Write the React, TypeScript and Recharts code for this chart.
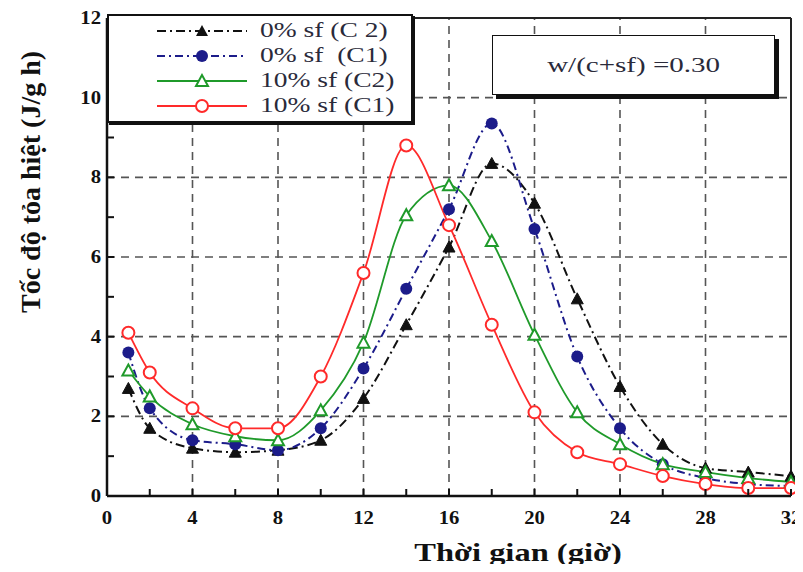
import React from "react";
import { LineChart, Line, XAxis, YAxis, ReferenceLine } from "recharts";

// time in hours
const hours = [1, 2, 4, 6, 8, 10, 12, 14, 16, 18, 20, 22, 24, 26, 28, 30, 32];

// heat release rate (J/g h)
const sf0C2 = [2.7, 1.7, 1.2, 1.1, 1.15, 1.4, 2.45, 4.3, 6.25, 8.35, 7.35, 4.95, 2.75, 1.3, 0.7, 0.6, 0.5];
const sf0C1 = [3.6, 2.2, 1.4, 1.3, 1.15, 1.7, 3.2, 5.2, 7.2, 9.35, 6.7, 3.5, 1.7, 0.8, 0.45, 0.3, 0.25];
const sf10C2 = [3.15, 2.5, 1.8, 1.5, 1.4, 2.15, 3.85, 7.05, 7.8, 6.4, 4.05, 2.1, 1.3, 0.8, 0.6, 0.45, 0.35];
const sf10C1 = [4.1, 3.1, 2.2, 1.7, 1.7, 3.0, 5.6, 8.8, 6.8, 4.3, 2.1, 1.1, 0.8, 0.5, 0.3, 0.2, 0.2];

const xTicks = [0, 2, 4, 6, 8, 10, 12, 14, 16, 18, 20, 22, 24, 26, 28, 30, 32];
const yTicks = [0, 1, 2, 3, 4, 5, 6, 7, 8, 9, 10, 11, 12];
const gridX = [4, 8, 12, 16, 20, 24, 28];
const gridY = [2, 4, 6, 8, 10];

const data = hours.map((h, i) => ({
    h,
    a: sf0C2[i],
    b: sf0C1[i],
    c: sf10C2[i],
    d: sf10C1[i],
}));

const FONT = '"Liberation Serif", "Times New Roman", serif';

const triangle = (cx: number, cy: number) =>
    `${cx},${cy - 6} ${cx - 6},${cy + 5} ${cx + 6},${cy + 5}`;

const BlackTri = (p: any) => (
    <polygon key={p.index} points={triangle(p.cx, p.cy)} fill="#111" stroke="#111" strokeWidth={1} />
);
const GreenTri = (p: any) => (
    <polygon key={p.index} points={triangle(p.cx, p.cy)} fill="#fff" stroke="#1f9a2a" strokeWidth={2} />
);
const BlueDot = (p: any) => <circle key={p.index} cx={p.cx} cy={p.cy} r={6} fill="#1c1c8a" />;
const RedDot = (p: any) => (
    <circle key={p.index} cx={p.cx} cy={p.cy} r={6} fill="#fff" stroke="#ff2a2a" strokeWidth={2} />
);

function XTick({ x, y, payload }: any) {
    const v = payload.value;
    return (
        <g>
            <line x1={x} y1={y} x2={x} y2={y - 7} stroke="#111" strokeWidth={2} />
            {v % 4 === 0 && (
                <text
                    transform={`translate(${x},${y + 28}) scale(1.15,1)`}
                    textAnchor="middle"
                    fontFamily={FONT}
                    fontWeight="bold"
                    fontSize={18}
                    fill="#111"
                >
                    {v}
                </text>
            )}
        </g>
    );
}

function YTick({ x, y, payload }: any) {
    const v = payload.value;
    return (
        <g>
            <line x1={x} y1={y} x2={x + 7} y2={y} stroke="#111" strokeWidth={2} />
            {v % 2 === 0 && (
                <text
                    transform={`translate(${x - 6},${y + 6}) scale(1.15,1)`}
                    textAnchor="end"
                    fontFamily={FONT}
                    fontWeight="bold"
                    fontSize={18}
                    fill="#111"
                >
                    {v}
                </text>
            )}
        </g>
    );
}

const legendRows = [
    { name: "0% sf (C 2)", color: "#111", dash: "9 4 2 4", marker: "tri-fill" },
    { name: "0% sf  (C1)", color: "#1c1c8a", dash: "8 4 2 4", marker: "dot-fill" },
    { name: "10% sf (C2)", color: "#1f9a2a", dash: "", marker: "tri-open" },
    { name: "10% sf (C1)", color: "#ff2a2a", dash: "", marker: "dot-open" },
];

function LegendMarker({ kind, color }: { kind: string; color: string }) {
    if (kind === "tri-fill") return <polygon points={triangle(45, 10)} fill={color} />;
    if (kind === "tri-open") return <polygon points={triangle(45, 10)} fill="#fff" stroke={color} strokeWidth={2} />;
    if (kind === "dot-fill") return <circle cx={45} cy={10} r={6} fill={color} />;
    return <circle cx={45} cy={10} r={6} fill="#fff" stroke={color} strokeWidth={2} />;
}

export default function App() {
    return (
        <div style={{ position: "relative", width: 803, height: 572, margin: -8, background: "#fff" }}>
            <LineChart width={803} height={572} data={data} margin={{ top: 18, right: 12, bottom: 16, left: 47 }}>
                {gridX.map((g) => (
                    <ReferenceLine key={"gx" + g} x={g} stroke="#555" strokeWidth={1.6} strokeDasharray="8 6" />
                ))}
                {gridY.map((g) => (
                    <ReferenceLine key={"gy" + g} y={g} stroke="#555" strokeWidth={1.6} strokeDasharray="8 6" />
                ))}
                <ReferenceLine x={32} stroke="#222" strokeWidth={2} />
                <ReferenceLine y={12} stroke="#222" strokeWidth={2} />
                <XAxis
                    dataKey="h"
                    type="number"
                    domain={[0, 32]}
                    ticks={xTicks}
                    interval={0}
                    height={60}
                    tickSize={0}
                    tickMargin={0}
                    tickLine={false}
                    tick={<XTick />}
                    axisLine={{ stroke: "#111", strokeWidth: 2.5 }}
                    label={() => (
                        <text
                            transform="translate(518,561) scale(1.25,1)"
                            textAnchor="middle"
                            fontFamily={FONT}
                            fontWeight="bold"
                            fontSize={26}
                            fill="#111"
                        >
                            Thời gian (giờ)
                        </text>
                    )}
                />
                <YAxis
                    type="number"
                    domain={[0, 12]}
                    ticks={yTicks}
                    interval={0}
                    width={60}
                    tickSize={0}
                    tickMargin={0}
                    tickLine={false}
                    tick={<YTick />}
                    axisLine={{ stroke: "#111", strokeWidth: 2.5 }}
                    label={() => (
                        <text
                            transform="translate(40,182) rotate(-90)"
                            textAnchor="middle"
                            fontFamily={FONT}
                            fontWeight="bold"
                            fontSize={28}
                            fill="#111"
                        >
                            Tốc độ tỏa hiệt (J/g h)
                        </text>
                    )}
                />
                <Line type="monotone" dataKey="a" stroke="#111" strokeWidth={2} strokeDasharray="9 4 2 4" dot={BlackTri} isAnimationActive={false} />
                <Line type="monotone" dataKey="b" stroke="#1c1c8a" strokeWidth={2} strokeDasharray="8 4 2 4" dot={BlueDot} isAnimationActive={false} />
                <Line type="monotone" dataKey="c" stroke="#1f9a2a" strokeWidth={1.8} dot={GreenTri} isAnimationActive={false} />
                <Line type="monotone" dataKey="d" stroke="#ff2a2a" strokeWidth={1.8} dot={RedDot} isAnimationActive={false} />
            </LineChart>

            <div
                style={{
                    position: "absolute",
                    left: 107,
                    top: 14,
                    width: 302,
                    height: 105,
                    border: "2px solid #111",
                    boxShadow: "2px 2px 0 #111",
                    background: "#fff",
                }}
            >
                {legendRows.map((r, i) => (
                    <div key={r.name} style={{ position: "absolute", left: 0, top: 5 + i * 25, height: 20, width: 300 }}>
                        <svg width={92} height={20} style={{ position: "absolute", left: 48, top: 0 }}>
                            <line x1={0} y1={10} x2={90} y2={10} stroke={r.color} strokeWidth={2} strokeDasharray={r.dash || undefined} />
                            <LegendMarker kind={r.marker} color={r.color} />
                        </svg>
                        <span
                            style={{
                                position: "absolute",
                                left: 151,
                                top: -4,
                                fontFamily: FONT,
                                fontSize: 22,
                                color: "#2a2a3a",
                                whiteSpace: "pre",
                                transform: "scaleX(1.25)",
                                transformOrigin: "left center",
                            }}
                        >
                            {r.name}
                        </span>
                    </div>
                ))}
            </div>

            <div
                style={{
                    position: "absolute",
                    left: 492,
                    top: 35,
                    width: 281,
                    height: 58,
                    border: "1.5px solid #111",
                    boxShadow: "4px 4px 0 #111",
                    background: "#fff",
                    display: "flex",
                    alignItems: "center",
                    justifyContent: "center",
                    fontFamily: FONT,
                    fontSize: 20,
                    color: "#2a2a3a",
                }}
            >
                <span style={{ display: "inline-block", transform: "scaleX(1.45)" }}>w/(c+sf) =0.30</span>
            </div>
        </div>
    );
}
